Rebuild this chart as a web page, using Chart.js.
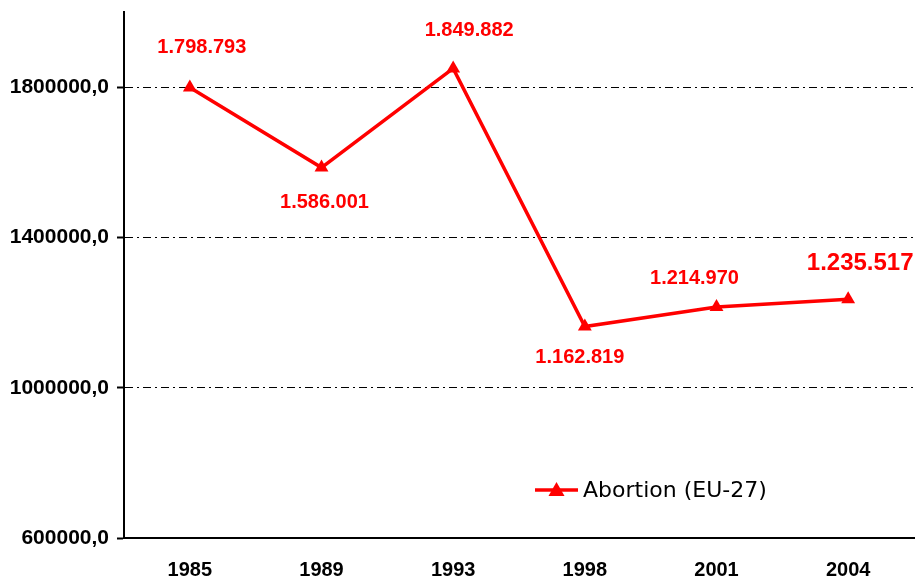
<!DOCTYPE html>
<html>
<head>
<meta charset="utf-8">
<script src="https://cdn.jsdelivr.net/npm/chart.js@4.4.1/dist/chart.umd.min.js"></script>
<style>
  html, body { margin: 0; padding: 0; background: #fff; }
  #wrap { width: 922px; height: 581px; }
</style>
</head>
<body>
<div id="wrap"><canvas id="chart"></canvas></div>
<script>
const years = ["1985", "1989", "1993", "1998", "2001", "2004"];
const abortions = [1798793, 1586001, 1849882, 1162819, 1214970, 1235517];
const yTicks = [600000, 1000000, 1400000, 1800000];
const seriesName = "Abortion (EU-27)";

const RED = "#ff0000";

function formatThousands(v) {
    return String(v).replace(/\B(?=(\d{3})+(?!\d))/g, ".");
}

// where each value label sits relative to its point (dx, dy, font size)
const labelPlacement = [
    { dx: 12, dy: -40, size: 20 },
    { dx: 3, dy: 35, size: 20 },
    { dx: 16, dy: -38, size: 20 },
    { dx: -5, dy: 31, size: 20 },
    { dx: -22, dy: -28, size: 20 },
    { dx: 12, dy: -36, size: 24 }
];

const valueLabels = {
    id: "valueLabels",
    afterDatasetsDraw(chart) {
        const ctx = chart.ctx;
        const meta = chart.getDatasetMeta(0);
        ctx.save();
        ctx.fillStyle = RED;
        ctx.textAlign = "center";
        ctx.textBaseline = "middle";
        meta.data.forEach((pt, i) => {
            const p = labelPlacement[i];
            ctx.font = "bold " + p.size + "px 'Liberation Sans', Arial, sans-serif";
            ctx.fillText(formatThousands(abortions[i]), pt.x + p.dx, pt.y + p.dy);
        });
        ctx.restore();
    }
};

const boxLegend = {
    id: "boxLegend",
    afterDraw(chart) {
        const ctx = chart.ctx;
        const x0 = 535, x1 = 578, y = 490;
        ctx.save();
        ctx.strokeStyle = RED;
        ctx.lineWidth = 3.5;
        ctx.beginPath();
        ctx.moveTo(x0, y);
        ctx.lineTo(x1, y);
        ctx.stroke();
        const cx = (x0 + x1) / 2;
        ctx.fillStyle = RED;
        ctx.beginPath();
        ctx.moveTo(cx, y - 8);
        ctx.lineTo(cx + 8, y + 6);
        ctx.lineTo(cx - 8, y + 6);
        ctx.closePath();
        ctx.fill();
        ctx.fillStyle = "#000";
        ctx.font = "22px 'DejaVu Sans', Tahoma, sans-serif";
        ctx.textAlign = "left";
        ctx.textBaseline = "middle";
        ctx.fillText(seriesName, 583, y + 1);
        ctx.restore();
    }
};

const tickFamily = "'Liberation Sans', Arial, sans-serif";

const chart = new Chart(document.getElementById("chart"), {
    type: "line",
    data: {
        labels: years,
        datasets: [{
            label: seriesName,
            data: abortions,
            borderColor: RED,
            backgroundColor: RED,
            borderWidth: 3.5,
            pointStyle: "triangle",
            pointRadius: 8,
            pointHoverRadius: 8,
            pointBorderWidth: 0,
            tension: 0
        }]
    },
    options: {
        responsive: true,
        maintainAspectRatio: false,
        animation: false,
        layout: { padding: { top: 12, right: 5, left: 0, bottom: 0 } },
        plugins: {
            legend: { display: false },
            tooltip: { enabled: false }
        },
        scales: {
            x: {
                offset: true,
                grid: { display: false, drawTicks: false },
                border: { display: true, color: "#000", width: 2 },
                ticks: {
                    color: "#000",
                    font: { family: tickFamily, size: 20, weight: "bold" },
                    padding: 20,
                    maxRotation: 0
                },
                afterFit(scale) {
                    scale.height = 43;
                    scale.paddingLeft = 0;
                    scale.paddingRight = 0;
                }
            },
            y: {
                min: 600000,
                max: 2000000,
                afterBuildTicks(scale) {
                    scale.ticks = yTicks.map(v => ({ value: v }));
                },
                grid: {
                    color: "#000",
                    lineWidth: 1,
                    drawTicks: true,
                    tickLength: 7,
                    tickColor: "#000",
                    tickWidth: 2
                },
                border: { display: true, color: "#000", width: 2, dash: [8, 4, 2, 4] },
                ticks: {
                    color: "#000",
                    font: { family: tickFamily, size: 21, weight: "bold" },
                    padding: 8,
                    callback: v => v.toFixed(1).replace(".", ",")
                },
                afterFit(scale) {
                    scale.width = 124;
                    scale.paddingTop = 0;
                    scale.paddingBottom = 0;
                }
            }
        }
    },
    plugins: [valueLabels, boxLegend]
});
</script>
</body>
</html>
